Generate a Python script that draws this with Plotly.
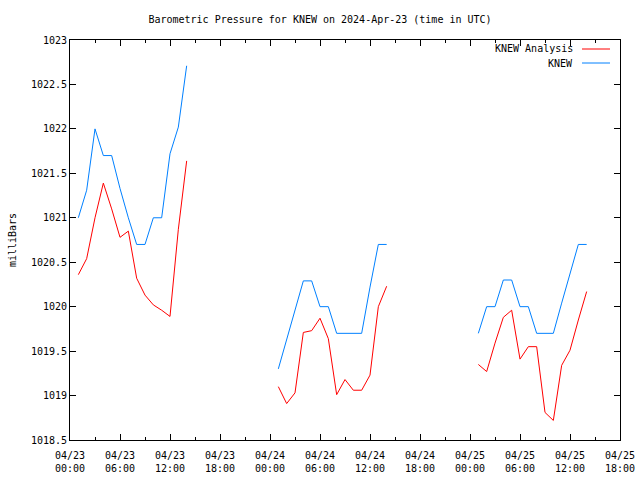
import plotly.graph_objects as go
from datetime import datetime, timedelta

# ---- data ----
day_starts = ["2024-04-23", "2024-04-24", "2024-04-25"]
hours = list(range(1, 15))  # 01:00 .. 14:00 each day

knew_day1 = [1021.0, 1021.31, 1022.0, 1021.7, 1021.7, 1021.33, 1021.0, 1020.7, 1020.7, 1021.0, 1021.0, 1021.72, 1022.02, 1022.71]
knew_day2 = [1019.30, 1019.63, 1019.96, 1020.29, 1020.29, 1020.0, 1020.0, 1019.70, 1019.70, 1019.70, 1019.70, 1020.22, 1020.70, 1020.70]
knew_day3 = [1019.70, 1020.0, 1020.0, 1020.30, 1020.30, 1020.0, 1020.0, 1019.70, 1019.70, 1019.70, 1020.04, 1020.37, 1020.70, 1020.70]

anal_day1 = [1020.36, 1020.54, 1021.0, 1021.39, 1021.1, 1020.78, 1020.85, 1020.32, 1020.13, 1020.02, 1019.96, 1019.89, 1020.87, 1021.64]
anal_day2 = [1019.10, 1018.91, 1019.03, 1019.71, 1019.73, 1019.87, 1019.64, 1019.01, 1019.18, 1019.06, 1019.06, 1019.23, 1020.0, 1020.23]
anal_day3 = [1019.35, 1019.27, 1019.59, 1019.88, 1019.96, 1019.41, 1019.55, 1019.55, 1018.81, 1018.72, 1019.34, 1019.51, 1019.85, 1020.17]

tick_times = ["2024-04-23 00:00", "2024-04-23 06:00", "2024-04-23 12:00", "2024-04-23 18:00",
              "2024-04-24 00:00", "2024-04-24 06:00", "2024-04-24 12:00", "2024-04-24 18:00",
              "2024-04-25 00:00", "2024-04-25 06:00", "2024-04-25 12:00", "2024-04-25 18:00"]
tick_labels = ["04/23<br>00:00", "04/23<br>06:00", "04/23<br>12:00", "04/23<br>18:00",
               "04/24<br>00:00", "04/24<br>06:00", "04/24<br>12:00", "04/24<br>18:00",
               "04/25<br>00:00", "04/25<br>06:00", "04/25<br>12:00", "04/25<br>18:00"]
y_ticks = [1018.5, 1019, 1019.5, 1020, 1020.5, 1021, 1021.5, 1022, 1022.5, 1023]
y_labels = ["1018.5", "1019", "1019.5", "1020", "1020.5", "1021", "1021.5", "1022", "1022.5", "1023"]


def build(series_list):
    xs, ys = [], []
    for d, vals in zip(day_starts, series_list):
        base = datetime.strptime(d, "%Y-%m-%d")
        for h, v in zip(hours, vals):
            xs.append(base + timedelta(hours=h))
            ys.append(v)
        xs.append(None)
        ys.append(None)
    return xs, ys


ax, ay = build([anal_day1, anal_day2, anal_day3])
kx, ky = build([knew_day1, knew_day2, knew_day3])

FONT = "DejaVu Sans Mono"
RED = "#ff0000"
BLUE = "#0080ff"

fig = go.Figure()
fig.add_trace(go.Scatter(x=ax, y=ay, mode="lines", name="KNEW Analysis",
                         line=dict(color=RED, width=1), connectgaps=False))
fig.add_trace(go.Scatter(x=kx, y=ky, mode="lines", name="KNEW",
                         line=dict(color=BLUE, width=1), connectgaps=False))

fig.update_layout(
    width=640, height=480,
    margin=dict(l=70, r=20, t=40, b=40, pad=0, autoexpand=False),
    paper_bgcolor="white", plot_bgcolor="white",
    showlegend=False,
    font=dict(family=FONT, size=10, color="black"),
    title=dict(text="Barometric Pressure for KNEW on 2024-Apr-23 (time in UTC)",
               x=0.5, xanchor="center", y=1 - 19 / 480, yanchor="middle",
               font=dict(family=FONT, size=10, color="black")),
)
fig.update_xaxes(
    type="date",
    range=["2024-04-23 00:00", "2024-04-25 18:00"],
    tickmode="array", tickvals=tick_times, ticktext=tick_labels,
    ticks="inside", ticklen=6, tickcolor="black", tickwidth=1,
    ticklabelstandoff=6,
    minor=dict(ticks="inside", ticklen=3, dtick=3 * 3600 * 1000, tick0="2024-04-23 00:00", tickcolor="black", showgrid=False),
    showline=True, linecolor="black", linewidth=1, mirror="allticks",
    showgrid=False, zeroline=False,
    tickfont=dict(family=FONT, size=10, color="black"),
)
fig.update_yaxes(
    range=[1018.5, 1023],
    tickmode="array", tickvals=y_ticks, ticktext=y_labels,
    ticks="inside", ticklen=6, tickcolor="black", tickwidth=1,
    showline=True, linecolor="black", linewidth=1, mirror="allticks",
    showgrid=False, zeroline=False,
    title=dict(text="milliBars", font=dict(family=FONT, size=10, color="black"), standoff=12),
    tickfont=dict(family=FONT, size=10, color="black"),
)

# gnuplot-style legend (text right of which the line sample is drawn)
legend_items = [("KNEW Analysis", RED, 49), ("KNEW", BLUE, 63)]
for text, col, ypix in legend_items:
    yp = 1 - (ypix - 40) / 400
    fig.add_annotation(text=text, xref="paper", yref="paper", x=(575 - 70) / 550, y=yp,
                       xanchor="right", yanchor="middle", showarrow=False,
                       font=dict(family=FONT, size=10, color="black"))
    fig.add_shape(type="line", xref="paper", yref="paper",
                  x0=(582 - 70) / 550, x1=(610 - 70) / 550, y0=yp, y1=yp,
                  line=dict(color=col, width=1))

fig.write_html("out.html", config={"displayModeBar": False},
               post_script="document.body.style.margin='0';document.body.style.overflow='hidden';")
